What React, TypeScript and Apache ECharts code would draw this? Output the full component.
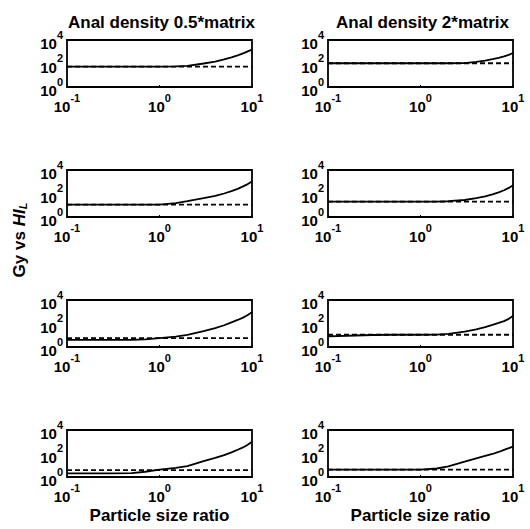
import React, { useEffect, useRef } from "react";
import * as echarts from "echarts";

// particle size ratio sample positions
const xs = [0.1, 0.2, 0.3, 0.5, 0.7, 1, 1.5, 2, 3, 4, 5, 6, 7, 8, 9, 10];

// solid curves (Gy) per panel
const solidA = [55, 55, 55, 55, 55, 55, 56, 63, 100, 145, 220, 330, 490, 720, 1080, 1550];
const solidB = [105, 105, 105, 105, 105, 105, 105, 105, 108, 135, 175, 235, 305, 400, 550, 780];
const solidC = [11.5, 11.5, 11.5, 11.5, 11.5, 11.5, 15, 22, 40, 63, 100, 158, 250, 400, 630, 1050];
const solidD = [20, 20, 20, 20, 20, 20, 20, 22, 28, 40, 56, 85, 126, 190, 300, 500];
const solidE = [4, 4, 4, 4, 4.4, 5.8, 7.6, 11, 22, 40, 71, 126, 200, 316, 525, 930];
const solidF = [8, 9.5, 10.5, 11, 11, 11, 11.3, 13, 20, 32, 50, 76, 112, 158, 250, 436];
const solidG = [2, 2, 2, 2.1, 2.8, 4.3, 6, 8.5, 22, 42, 72, 126, 210, 330, 560, 1000];
const solidH = [4.3, 4.3, 4.3, 4.3, 4.3, 4.3, 5.3, 8, 20, 39, 63, 91, 135, 200, 282, 390];

// dashed reference levels (HI_L) per panel
const dashedX = [0.1, 10];
const dashedLevels = [55, 105, 11.5, 20, 5.6, 11, 3.8, 4.3];

const solids = [solidA, solidB, solidC, solidD, solidE, solidF, solidG, solidH];

const columnTitles = ["Anal density 0.5*matrix", "Anal density 2*matrix"];
const xAxisName = "Particle size ratio";

const FONT = '"Liberation Sans", Arial, sans-serif';

const colLeft = [67, 328];
const rowTop = [40, 170, 300, 430];
const boxW = 185;
const boxH = 47;

const powRich = {
  b: {
    fontSize: 15,
    fontWeight: "bold",
    fontFamily: FONT,
    color: "#000",
    lineHeight: 22,
    verticalAlign: "bottom",
  },
  s: {
    fontSize: 11,
    fontWeight: "bold",
    fontFamily: FONT,
    color: "#000",
    lineHeight: 12,
    verticalAlign: "top",
  },
};

function powLabel(v: number, onlyEven: boolean) {
  const e = Math.round(Math.log10(v));
  if (onlyEven && e % 2 !== 0) return "";
  return "{b|10}{s|" + e + "}";
}

export default function App() {
  const ref = useRef<HTMLDivElement>(null);
  useEffect(() => {
    if (!ref.current) return;
    const chart = echarts.init(ref.current, null, { renderer: "svg" });
    const grid: any[] = [];
    const xAxis: any[] = [];
    const yAxis: any[] = [];
    const series: any[] = [];
    solids.forEach((sol, i) => {
      const col = i % 2;
      const row = Math.floor(i / 2);
      grid.push({
        left: colLeft[col],
        top: rowTop[row],
        width: boxW,
        height: boxH,
        show: true,
        borderColor: "#000",
        borderWidth: 1.8,
        backgroundColor: "transparent",
      });
      xAxis.push({
        type: "log",
        logBase: 10,
        gridIndex: i,
        min: 0.1,
        max: 10,
        axisLine: { show: false },
        axisTick: { show: true, inside: true, length: 2, lineStyle: { color: "#000" } },
        splitLine: { show: false },
        axisLabel: {
          margin: 5,
          formatter: (v: number) => powLabel(v, false),
          rich: powRich,
        },
      });
      yAxis.push({
        type: "log",
        logBase: 10,
        gridIndex: i,
        min: 1,
        max: 10000,
        axisLine: { show: false },
        axisTick: { show: false },
        splitLine: { show: false },
        axisLabel: {
          margin: 4,
          formatter: (v: number) => powLabel(v, true),
          rich: powRich,
        },
      });
      series.push({
        type: "line",
        xAxisIndex: i,
        yAxisIndex: i,
        data: dashedX.map((x) => [x, dashedLevels[i]]),
        symbol: "none",
        lineStyle: { color: "#000", width: 1.8, type: [5, 3] },
        z: 2,
      });
      series.push({
        type: "line",
        xAxisIndex: i,
        yAxisIndex: i,
        data: xs.map((x, k) => [x, sol[k]]),
        symbol: "none",
        lineStyle: { color: "#000", width: 1.8 },
        z: 3,
      });
    });

    const graphic: any[] = [];
    columnTitles.forEach((t, c) => {
      graphic.push({
        type: "text",
        x: colLeft[c] + boxW / 2 + 2,
        y: 22,
        style: {
          text: t,
          font: "bold 17px " + FONT,
          fill: "#000",
          textAlign: "center",
          textVerticalAlign: "middle",
        },
      });
      graphic.push({
        type: "text",
        x: colLeft[c] + boxW / 2,
        y: 515,
        style: {
          text: xAxisName,
          font: "bold 17px " + FONT,
          fill: "#000",
          textAlign: "center",
          textVerticalAlign: "middle",
        },
      });
    });
    graphic.push({
      type: "text",
      x: 19,
      y: 240,
      rotation: Math.PI / 2,
      style: {
        text: "{n|Gy vs }{i|HI}{sub|L}",
        textAlign: "center",
        textVerticalAlign: "middle",
        rich: {
          n: { fontSize: 17, fontWeight: "bold", fontFamily: FONT, fill: "#000" },
          i: { fontSize: 17, fontWeight: "bold", fontStyle: "italic", fontFamily: FONT, fill: "#000" },
          sub: {
            fontSize: 11,
            fontWeight: "bold",
            fontStyle: "italic",
            fontFamily: FONT,
            fill: "#000",
            padding: [8, 0, 0, 0],
          },
        },
      },
    });

    chart.setOption({
      animation: false,
      backgroundColor: "#fff",
      grid,
      xAxis,
      yAxis,
      series,
      graphic,
    });
    return () => chart.dispose();
  }, []);
  return (
    <div
      ref={ref}
      style={{ position: "fixed", left: 0, top: 0, width: 530, height: 529 }}
    />
  );
}
